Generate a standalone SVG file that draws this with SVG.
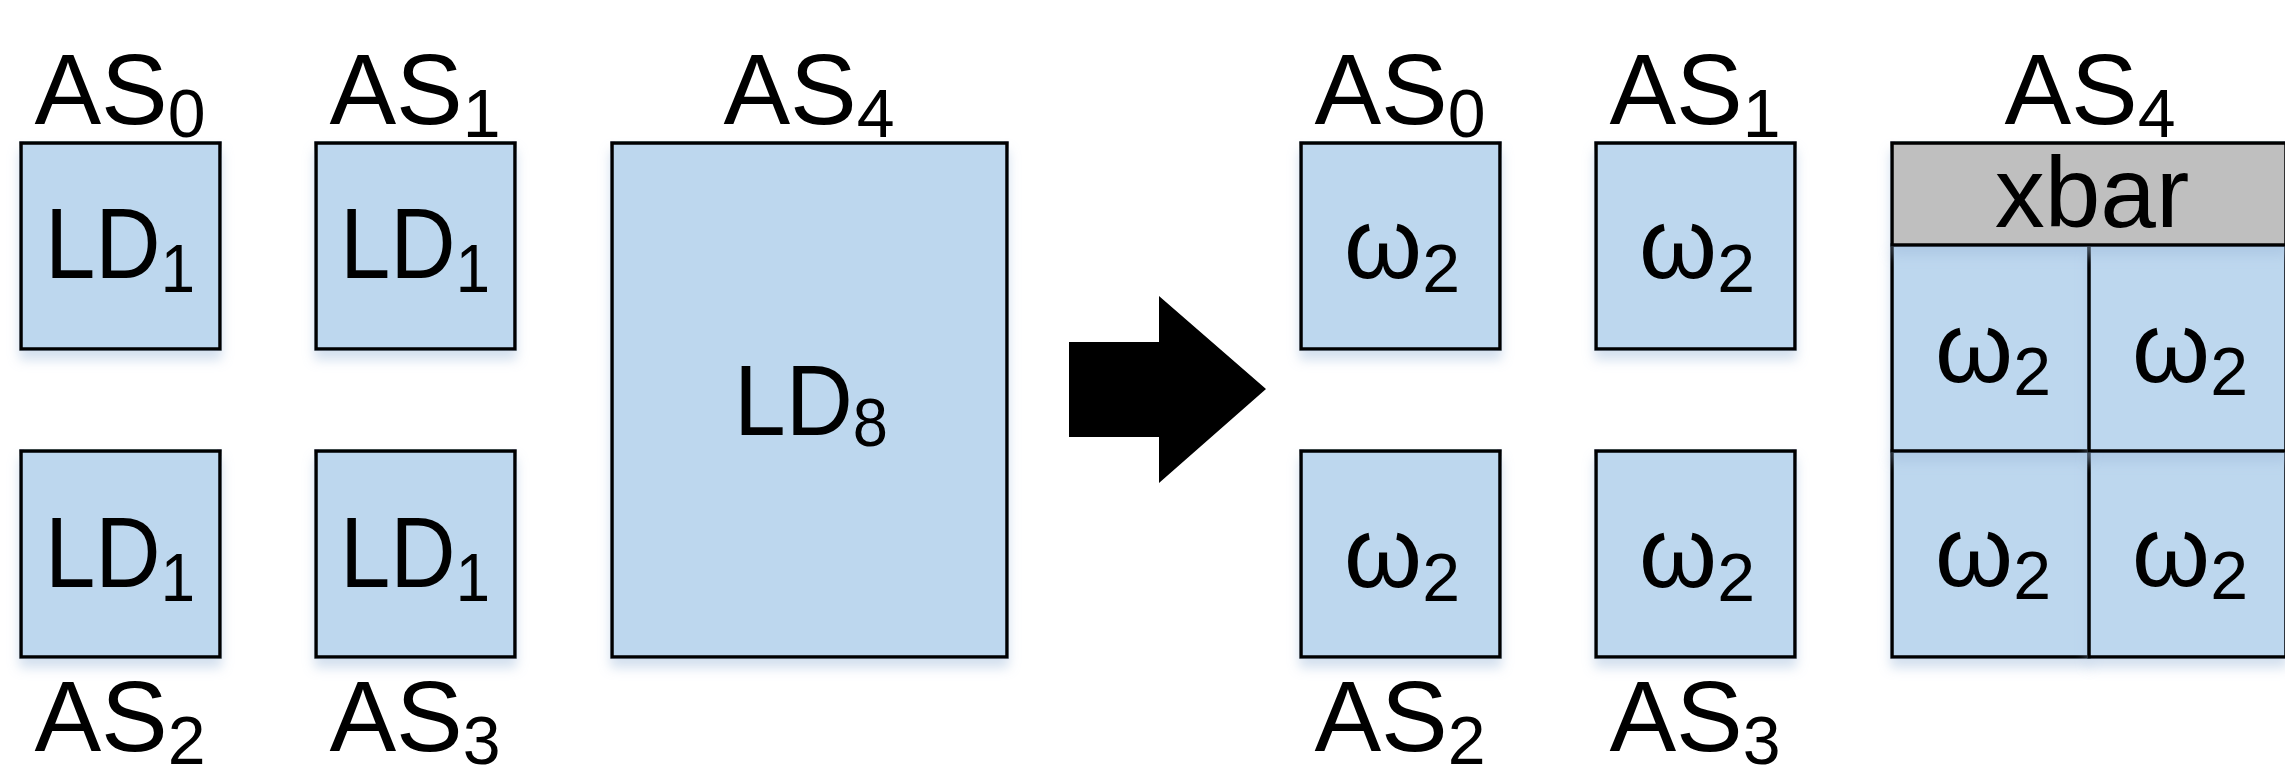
<svg xmlns="http://www.w3.org/2000/svg" width="2285" height="768" viewBox="0 0 2285 768">
<defs>
<filter id="sh" x="-20%" y="-20%" width="140%" height="150%">
<feDropShadow dx="0" dy="9" stdDeviation="6" flood-color="#9DB9DA" flood-opacity="0.45"/>
</filter>
</defs>
<style>
.box{fill:#BDD7EE;stroke:#000;stroke-width:3.5;filter:url(#sh)}
.xbar{fill:#BFBFBF;stroke:#000;stroke-width:3.5;filter:url(#sh)}
text{font-family:"Liberation Sans",Arial,sans-serif;font-size:100px;fill:#000;text-anchor:middle}
.s{font-size:68px}
</style>
<rect width="2285" height="768" fill="#fff"/>
<g id="connectors">
<polygon points="1069,342 1159,342 1159,296 1266,389 1159,483 1159,437 1069,437" fill="#000"/>
</g>
<g id="as0-left">
<rect class="box" x="21" y="143" width="199" height="206"/>
<text x="120" y="124">AS<tspan class="s" dy="13">0</tspan></text>
<text x="120" y="278" textLength="150" lengthAdjust="spacingAndGlyphs">LD<tspan class="s" dy="14">1</tspan></text>
</g>
<g id="as1-left">
<rect class="box" x="316" y="143" width="199" height="206"/>
<text x="415" y="124">AS<tspan class="s" dy="13">1</tspan></text>
<text x="415" y="278" textLength="150" lengthAdjust="spacingAndGlyphs">LD<tspan class="s" dy="14">1</tspan></text>
</g>
<g id="as2-left">
<rect class="box" x="21" y="451" width="199" height="206"/>
<text x="120" y="587" textLength="150" lengthAdjust="spacingAndGlyphs">LD<tspan class="s" dy="14">1</tspan></text>
<text x="120" y="751">AS<tspan class="s" dy="13">2</tspan></text>
</g>
<g id="as3-left">
<rect class="box" x="316" y="451" width="199" height="206"/>
<text x="415" y="587" textLength="150" lengthAdjust="spacingAndGlyphs">LD<tspan class="s" dy="14">1</tspan></text>
<text x="415" y="751">AS<tspan class="s" dy="13">3</tspan></text>
</g>
<g id="as4-left">
<rect class="box" x="612" y="143" width="395" height="514"/>
<text x="809" y="124">AS<tspan class="s" dy="13">4</tspan></text>
<text x="811" y="435" textLength="154" lengthAdjust="spacingAndGlyphs">LD<tspan class="s" dy="11">8</tspan></text>
</g>
<g id="as0-right">
<rect class="box" x="1301" y="143" width="199" height="206"/>
<text x="1400" y="124">AS<tspan class="s" dy="13">0</tspan></text>
<text x="1402" y="278">ω<tspan class="s" dy="14">2</tspan></text>
</g>
<g id="as1-right">
<rect class="box" x="1596" y="143" width="199" height="206"/>
<text x="1695" y="124">AS<tspan class="s" dy="13">1</tspan></text>
<text x="1697" y="278">ω<tspan class="s" dy="14">2</tspan></text>
</g>
<g id="as2-right">
<rect class="box" x="1301" y="451" width="199" height="206"/>
<text x="1402" y="587">ω<tspan class="s" dy="14">2</tspan></text>
<text x="1400" y="751">AS<tspan class="s" dy="13">2</tspan></text>
</g>
<g id="as3-right">
<rect class="box" x="1596" y="451" width="199" height="206"/>
<text x="1697" y="587">ω<tspan class="s" dy="14">2</tspan></text>
<text x="1695" y="751">AS<tspan class="s" dy="13">3</tspan></text>
</g>
<g id="as4-right">
<rect class="box" x="1892" y="451" width="197" height="206"/>
<rect class="box" x="2089" y="451" width="197" height="206"/>
<rect class="box" x="1892" y="245" width="197" height="206"/>
<rect class="box" x="2089" y="245" width="197" height="206"/>
<rect class="xbar" x="1892" y="143" width="394" height="102"/>
<text x="2090" y="124">AS<tspan class="s" dy="13">4</tspan></text>
<text x="2092" y="227">xbar</text>
<text x="1993" y="382">ω<tspan class="s" dy="13">2</tspan></text>
<text x="2190" y="382">ω<tspan class="s" dy="13">2</tspan></text>
<text x="1993" y="586">ω<tspan class="s" dy="13">2</tspan></text>
<text x="2190" y="586">ω<tspan class="s" dy="13">2</tspan></text>
</g>
</svg>
